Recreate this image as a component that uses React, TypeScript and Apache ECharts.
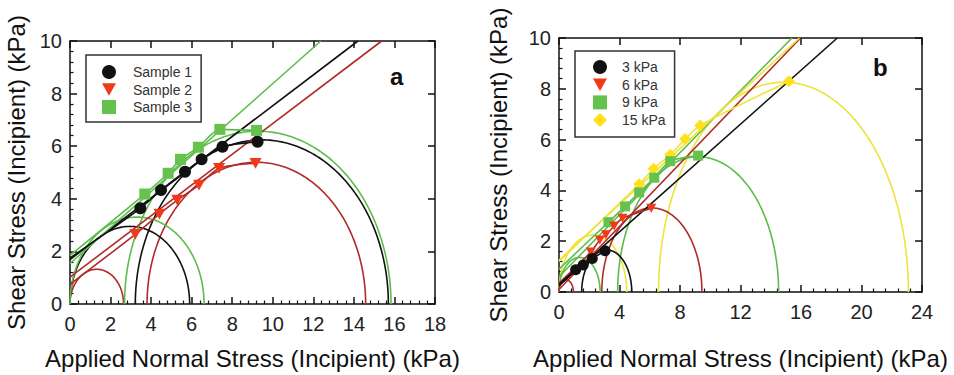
import React, { useEffect, useRef } from "react";
import * as echarts from "echarts";

const FONT = "'Liberation Sans', Arial, Helvetica, sans-serif";

const BLACK = "#111111";
const RED_LINE = "#b02a2a";
const RED_MARK = "#f03a17";
const GREEN = "#5cbd4b";
const GREEN_MARK = "#66c24f";
const YELLOW = "#efe33a";
const YELLOW_MARK = "#ffe01a";

// ---------- Panel a (Samples) ----------
const aNames = ["Sample 1", "Sample 2", "Sample 3"];
// data curves: first item is the start of the curve on the stress axis (no marker)
const aSample1 = [[0, 1.75], [3.47, 3.64], [4.49, 4.33], [5.67, 5.03], [6.49, 5.5], [7.52, 5.98], [9.25, 6.17]];
const aSample2 = [[0, 0.75], [3.22, 2.65], [4.41, 3.42], [5.29, 3.95], [6.36, 4.52], [7.35, 5.16], [9.15, 5.35]];
const aSample3 = [[0, 1.85], [3.69, 4.18], [4.84, 4.97], [5.45, 5.5], [6.33, 5.96], [7.39, 6.64], [9.2, 6.6]];
// Mohr circles: [sigma3, sigma1]
const aCircles1 = [[0, 5.9], [3.22, 15.7]];
const aCircles2 = [[0, 2.64], [3.8, 14.58]];
const aCircles3 = [[0, 6.61], [2.69, 15.83]];
// failure envelopes (end points)
const aEnv1 = [[0, 1.69], [14.2, 10]];
const aEnv2 = [[0, 1.02], [15.37, 10]];
const aEnv3 = [[0, 1.54], [12.37, 10]];

// ---------- Panel b (confining stress) ----------
const bNames = ["3 kPa", "6 kPa", "9 kPa", "15 kPa"];
const b3 = [[0, 0.3], [1.1, 0.88], [1.6, 1.06], [2.2, 1.32], [3.05, 1.62]];
const b6 = [[0, 0.35], [2.1, 1.57], [2.7, 2.05], [3.1, 2.25], [3.65, 2.6], [4.2, 2.9], [6.1, 3.3]];
const b9 = [[0, 0.9], [3.27, 2.75], [4.37, 3.37], [5.3, 3.92], [6.3, 4.5], [7.35, 5.15], [9.2, 5.37]];
const b15 = [[0, 1.2], [5.3, 4.24], [6.25, 4.85], [7.35, 5.4], [8.34, 6.02], [9.34, 6.56], [15.2, 8.3]];
const bCircles3 = [[1.5, 4.81]];
const bCircles6 = [[0, 0.95], [2.83, 9.45]];
const bCircles9 = [[0, 2.72], [3.88, 14.52]];
const bCircles15 = [[0, 4.48], [6.58, 23.1]];
const bEnv3 = [[0, 0.25], [18.4, 10]];
const bEnv6 = [[0, 0.1], [15.97, 10]];
const bEnv9 = [[0, 0.6], [15.4, 10]];
const bEnv15 = [[0, 1.25], [15.9, 10]];

const TRI_DOWN = "path://M0,0L10,0L5,9Z";

function arcSeries(name: string, data: number[][], color: string, xi: number) {
  return {
    type: "custom",
    name,
    xAxisIndex: xi,
    yAxisIndex: xi,
    silent: true,
    z: 2,
    data: data.map((d) => [d[0], d[1], 0]),
    encode: { x: [0, 1], y: 2 },
    renderItem: (params: any, api: any) => {
      const a = api.value(0);
      const b = api.value(1);
      const c = (a + b) / 2;
      const r = (b - a) / 2;
      const pts: number[][] = [];
      const N = 160;
      for (let k = 0; k <= N; k++) {
        const t = (Math.PI * k) / N;
        pts.push(api.coord([c + r * Math.cos(t), r * Math.sin(t)]));
      }
      return {
        type: "polyline",
        shape: { points: pts },
        style: { stroke: color, lineWidth: 1.6, fill: null },
      };
    },
  };
}

function envSeries(name: string, data: number[][], color: string, xi: number) {
  return {
    type: "line",
    name,
    xAxisIndex: xi,
    yAxisIndex: xi,
    data,
    showSymbol: false,
    symbol: "none",
    silent: true,
    z: 3,
    lineStyle: { color, width: 1.6 },
  };
}

function dataSeries(
  name: string,
  data: number[][],
  lineColor: string,
  markColor: string,
  symbol: string,
  size: number,
  xi: number
) {
  return {
    type: "line",
    name,
    xAxisIndex: xi,
    yAxisIndex: xi,
    smooth: 0.25,
    symbol,
    symbolSize: size,
    symbolKeepAspect: true,
    showAllSymbol: true,
    z: 5,
    data: data.map((d, i) => (i === 0 ? { value: d, symbol: "none" } : { value: d })),
    lineStyle: { color: lineColor, width: 1.6 },
    itemStyle: { color: markColor, borderWidth: 0 },
  };
}

const axisLineStyle = { color: "#111", width: 1.5 };

function bottomAxis(grid: number, max: number, interval: number, nameGap: number) {
  return {
    type: "value",
    gridIndex: grid,
    position: "bottom",
    min: 0,
    max,
    interval,
    axisLine: { show: true, onZero: false, lineStyle: axisLineStyle },
    axisTick: { show: true, inside: true, length: 7, lineStyle: { color: "#111", width: 1.5 } },
    minorTick: { show: true, splitNumber: 5, length: 3.5, lineStyle: { color: "#111", width: 1.2 } },
    splitLine: { show: false },
    axisLabel: { fontSize: 20, color: "#222", fontFamily: FONT, margin: 10 },
    name: "Applied Normal Stress (Incipient) (kPa)",
    nameLocation: "middle",
    nameGap,
    nameTextStyle: { fontSize: 24, color: "#111", fontFamily: FONT },
  };
}

function topAxis(grid: number, max: number, interval: number) {
  return {
    type: "value",
    gridIndex: grid,
    position: "top",
    min: 0,
    max,
    interval,
    axisLine: { show: true, onZero: false, lineStyle: axisLineStyle },
    axisTick: { show: true, inside: true, length: 7, lineStyle: { color: "#111", width: 1.5 } },
    splitLine: { show: false },
    axisLabel: { show: false },
  };
}

function leftAxis(grid: number, nameGap: number) {
  return {
    type: "value",
    gridIndex: grid,
    position: "left",
    min: 0,
    max: 10,
    interval: 2,
    axisLine: { show: true, onZero: false, lineStyle: axisLineStyle },
    axisTick: { show: true, inside: true, length: 7, lineStyle: { color: "#111", width: 1.5 } },
    minorTick: { show: true, splitNumber: 5, length: 3.5, lineStyle: { color: "#111", width: 1.2 } },
    splitLine: { show: false },
    axisLabel: { fontSize: 20, color: "#222", fontFamily: FONT, margin: 8 },
    name: "Shear Stress (Incipient) (kPa)",
    nameLocation: "middle",
    nameGap,
    nameTextStyle: { fontSize: 24, color: "#111", fontFamily: FONT },
  };
}

function rightAxis(grid: number) {
  return {
    type: "value",
    gridIndex: grid,
    position: "right",
    min: 0,
    max: 10,
    interval: 2,
    axisLine: { show: true, onZero: false, lineStyle: axisLineStyle },
    axisTick: { show: true, inside: true, length: 7, lineStyle: { color: "#111", width: 1.5 } },
    splitLine: { show: false },
    axisLabel: { show: false },
  };
}

export default function App() {
  const ref = useRef<HTMLDivElement>(null);

  useEffect(() => {
    if (!ref.current) return;
    const chart = echarts.init(ref.current, null, { renderer: "svg" });

    const legendText = { fontSize: 14, fontFamily: FONT, color: "#333", padding: [0, 0, 0, 12] };

    const option: any = {
      animation: false,
      backgroundColor: "#ffffff",
      grid: [
        { left: 70, top: 41, width: 365, height: 263 },
        { left: 559, top: 38, width: 363, height: 260 },
      ],
      xAxis: [
        bottomAxis(0, 18, 2, 42),
        topAxis(0, 18, 2),
        bottomAxis(1, 24, 4, 54),
        topAxis(1, 24, 4),
      ],
      yAxis: [leftAxis(0, 42), rightAxis(0), leftAxis(1, 49), rightAxis(1)],
      legend: [
        {
          left: 86,
          top: 55,
          orient: "vertical",
          padding: [10, 9, 8, 16],
          itemGap: 3.5,
          itemWidth: 14,
          itemHeight: 14,
          borderColor: "#333",
          borderWidth: 1.5,
          backgroundColor: "#fff",
          selectedMode: false,
          textStyle: legendText,
          data: [
            { name: aNames[0], icon: "circle" },
            { name: aNames[1], icon: TRI_DOWN },
            { name: aNames[2], icon: "rect" },
          ],
        },
        {
          left: 575,
          top: 51,
          orient: "vertical",
          padding: [9, 9, 10, 18],
          itemGap: 3.7,
          itemWidth: 14,
          itemHeight: 14,
          borderColor: "#333",
          borderWidth: 1.5,
          backgroundColor: "#fff",
          selectedMode: false,
          textStyle: { ...legendText, padding: [0, 0, 0, 10] },
          data: [
            { name: bNames[0], icon: "circle" },
            { name: bNames[1], icon: TRI_DOWN },
            { name: bNames[2], icon: "rect" },
            { name: bNames[3], icon: "diamond" },
          ],
        },
      ],
      graphic: [
        {
          type: "text",
          left: 390,
          top: 64,
          style: { text: "a", font: `bold 24px ${FONT}`, fill: "#111" },
        },
        {
          type: "text",
          left: 873,
          top: 55,
          style: { text: "b", font: `bold 24px ${FONT}`, fill: "#111" },
        },
      ],
      series: [
        // panel a
        arcSeries("ca2", aCircles2, RED_LINE, 0),
        arcSeries("ca1", aCircles1, BLACK, 0),
        arcSeries("ca3", aCircles3, GREEN, 0),
        envSeries("ea2", aEnv2, RED_LINE, 0),
        envSeries("ea1", aEnv1, BLACK, 0),
        envSeries("ea3", aEnv3, GREEN, 0),
        dataSeries(aNames[1], aSample2, RED_LINE, RED_MARK, TRI_DOWN, 12, 0),
        dataSeries(aNames[0], aSample1, BLACK, BLACK, "circle", 12, 0),
        dataSeries(aNames[2], aSample3, GREEN, GREEN_MARK, "rect", 11, 0),
        // panel b
        arcSeries("cb15", bCircles15, YELLOW, 2),
        arcSeries("cb9", bCircles9, GREEN, 2),
        arcSeries("cb6", bCircles6, RED_LINE, 2),
        arcSeries("cb3", bCircles3, BLACK, 2),
        envSeries("eb3", bEnv3, BLACK, 2),
        envSeries("eb6", bEnv6, RED_LINE, 2),
        envSeries("eb9", bEnv9, GREEN, 2),
        envSeries("eb15", bEnv15, YELLOW, 2),
        dataSeries(bNames[3], b15, YELLOW, YELLOW_MARK, "diamond", 12, 2),
        dataSeries(bNames[2], b9, GREEN, GREEN_MARK, "rect", 10, 2),
        dataSeries(bNames[1], b6, RED_LINE, RED_MARK, TRI_DOWN, 10, 2),
        dataSeries(bNames[0], b3, BLACK, BLACK, "circle", 11, 2),
      ],
    };

    chart.setOption(option);
    return () => chart.dispose();
  }, []);

  return (
    <div
      ref={ref}
      style={{ position: "fixed", left: 0, top: 0, width: 954, height: 375, background: "#fff" }}
    />
  );
}
